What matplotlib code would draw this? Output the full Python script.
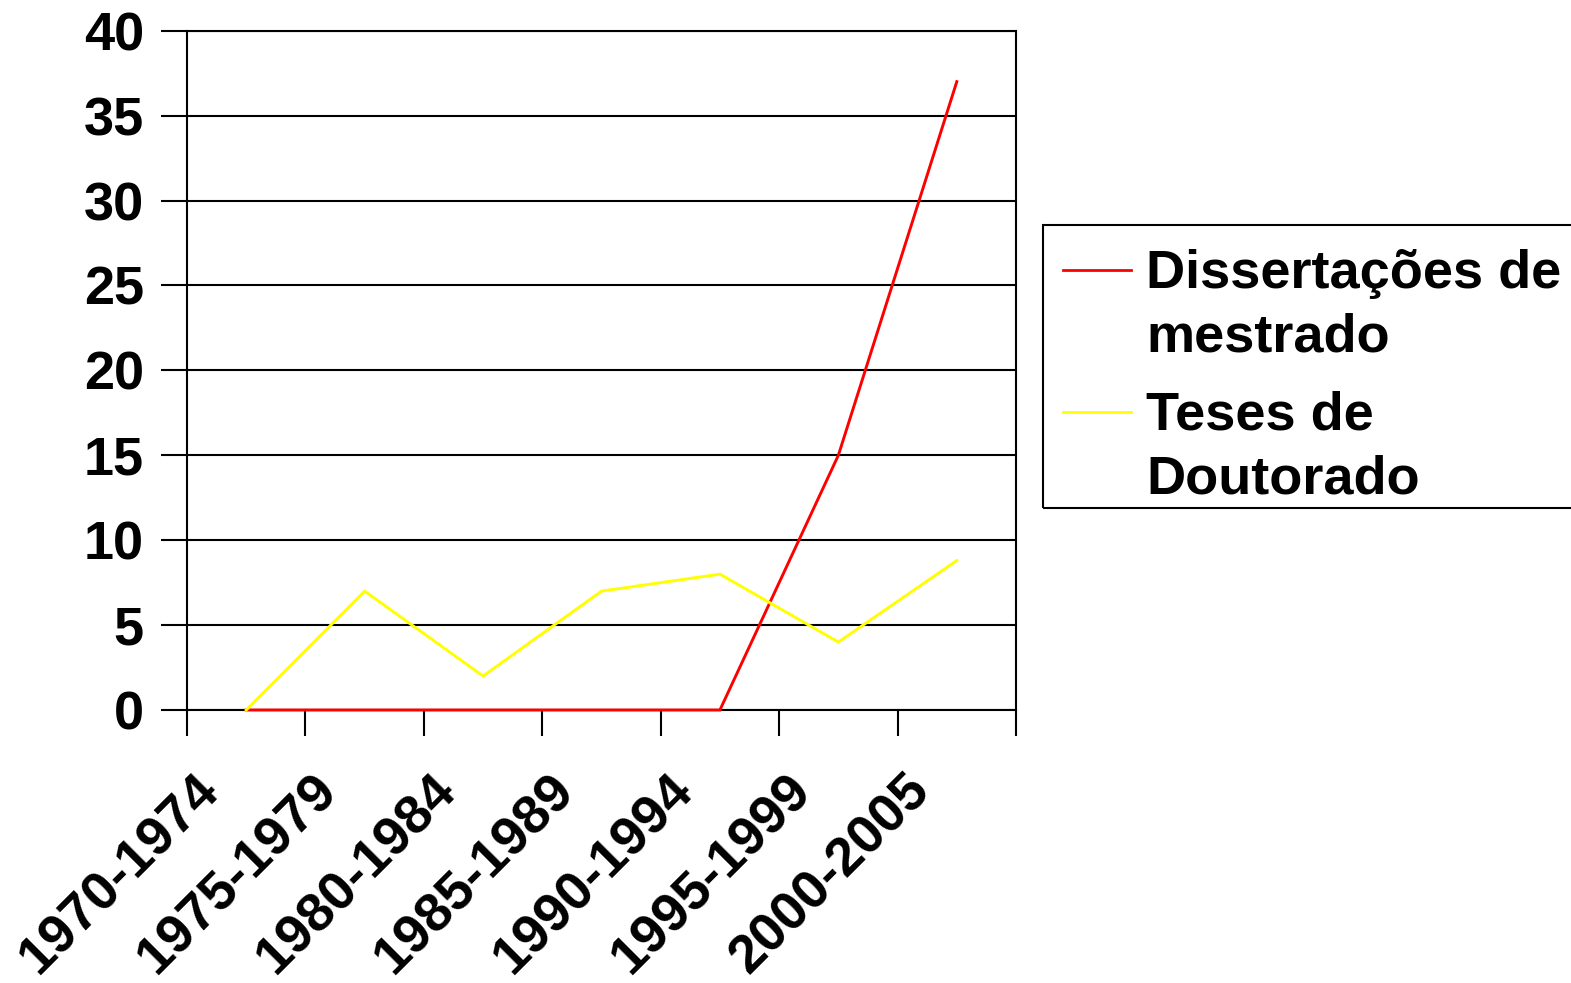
import numpy as np
import matplotlib
matplotlib.use("Agg")
import matplotlib.pyplot as plt
from matplotlib.patches import Rectangle
from matplotlib.lines import Line2D
import matplotlib.transforms as mtransforms

plt.rcParams['font.family'] = ['Liberation Sans', 'DejaVu Sans']
plt.rcParams['font.weight'] = 'bold'

periods = ["1970-1974", "1975-1979", "1980-1984", "1985-1989",
           "1990-1994", "1995-1999", "2000-2005"]
mestrado = [0, 0, 0, 0, 0, 15, 37]
doutorado = [0, 7, 2, 7, 8, 4, 8.8]
series_names = ["Dissertações de\nmestrado", "Teses de\nDoutorado"]
series_colors = ["#FF0000", "#FFFF00"]
y_ticks = list(range(0, 41, 5))

FS = 39
W, H = 1571, 983
fig = plt.figure(figsize=(W / 100, H / 100), dpi=100)
fig.patch.set_facecolor("white")

def fx(px):
    return px / W

def fy(py):
    return 1 - py / H

ax = fig.add_axes([fx(187), fy(710), fx(1016 - 187), (710 - 30.7) / H])
x = np.arange(len(periods))

ax.plot(x, mestrado, color=series_colors[0], lw=2.1, clip_on=False, zorder=3,
        solid_joinstyle="miter")
ax.plot(x, doutorado, color=series_colors[1], lw=2.1, clip_on=False, zorder=4,
        solid_joinstyle="miter")

ax.set_xlim(-0.5, len(periods) - 0.5)
ax.set_ylim(0, 40)

# category boundaries carry the tick marks; labels sit at category centres
ax.set_xticks(np.arange(-0.5, len(periods), 1))
ax.set_xticklabels([])
ax.set_yticks(y_ticks)
ax.set_yticklabels([str(v) for v in y_ticks])
ax.tick_params(axis="x", length=19, width=1.5, direction="out", color="black")
ax.tick_params(axis="y", length=19, width=1.5, direction="out", color="black",
               labelsize=FS, pad=12)
for lab in ax.get_yticklabels():
    lab.set_fontweight("bold")

ax.yaxis.grid(True, color="black", lw=1.5, zorder=1)
ax.set_axisbelow(True)
for side in ["left", "right", "top", "bottom"]:
    ax.spines[side].set_linewidth(1.5)
    ax.spines[side].set_color("black")

# rotated category labels
offset = mtransforms.ScaledTranslation(-35 / 100, -73 / 100, fig.dpi_scale_trans)
trans = ax.get_xaxis_transform() + offset
for xi, lab in zip(x, periods):
    ax.text(xi, 0, lab, transform=trans, rotation=45, rotation_mode="anchor",
            ha="right", va="center", fontsize=FS, fontweight="bold",
            clip_on=False)

# legend box
fig.add_artist(Rectangle((fx(1043), fy(508)), fx(700), (508 - 225) / H,
                         transform=fig.transFigure, fill=False,
                         edgecolor="black", lw=1.5))
legend_rows = [(series_names[0], series_colors[0], 270, [288, 352]),
               (series_names[1], series_colors[1], 412, [430, 494])]
for name, col, ly, baselines in legend_rows:
    fig.add_artist(Line2D([fx(1063), fx(1131)], [fy(ly), fy(ly)],
                          transform=fig.transFigure, color=col, lw=2))
    for line, b in zip(name.split("\n"), baselines):
        fig.text(fx(1146), fy(b), line, fontsize=FS, fontweight="bold",
                 ha="left", va="baseline")

fig.savefig("out.png", dpi=100, facecolor="white")
